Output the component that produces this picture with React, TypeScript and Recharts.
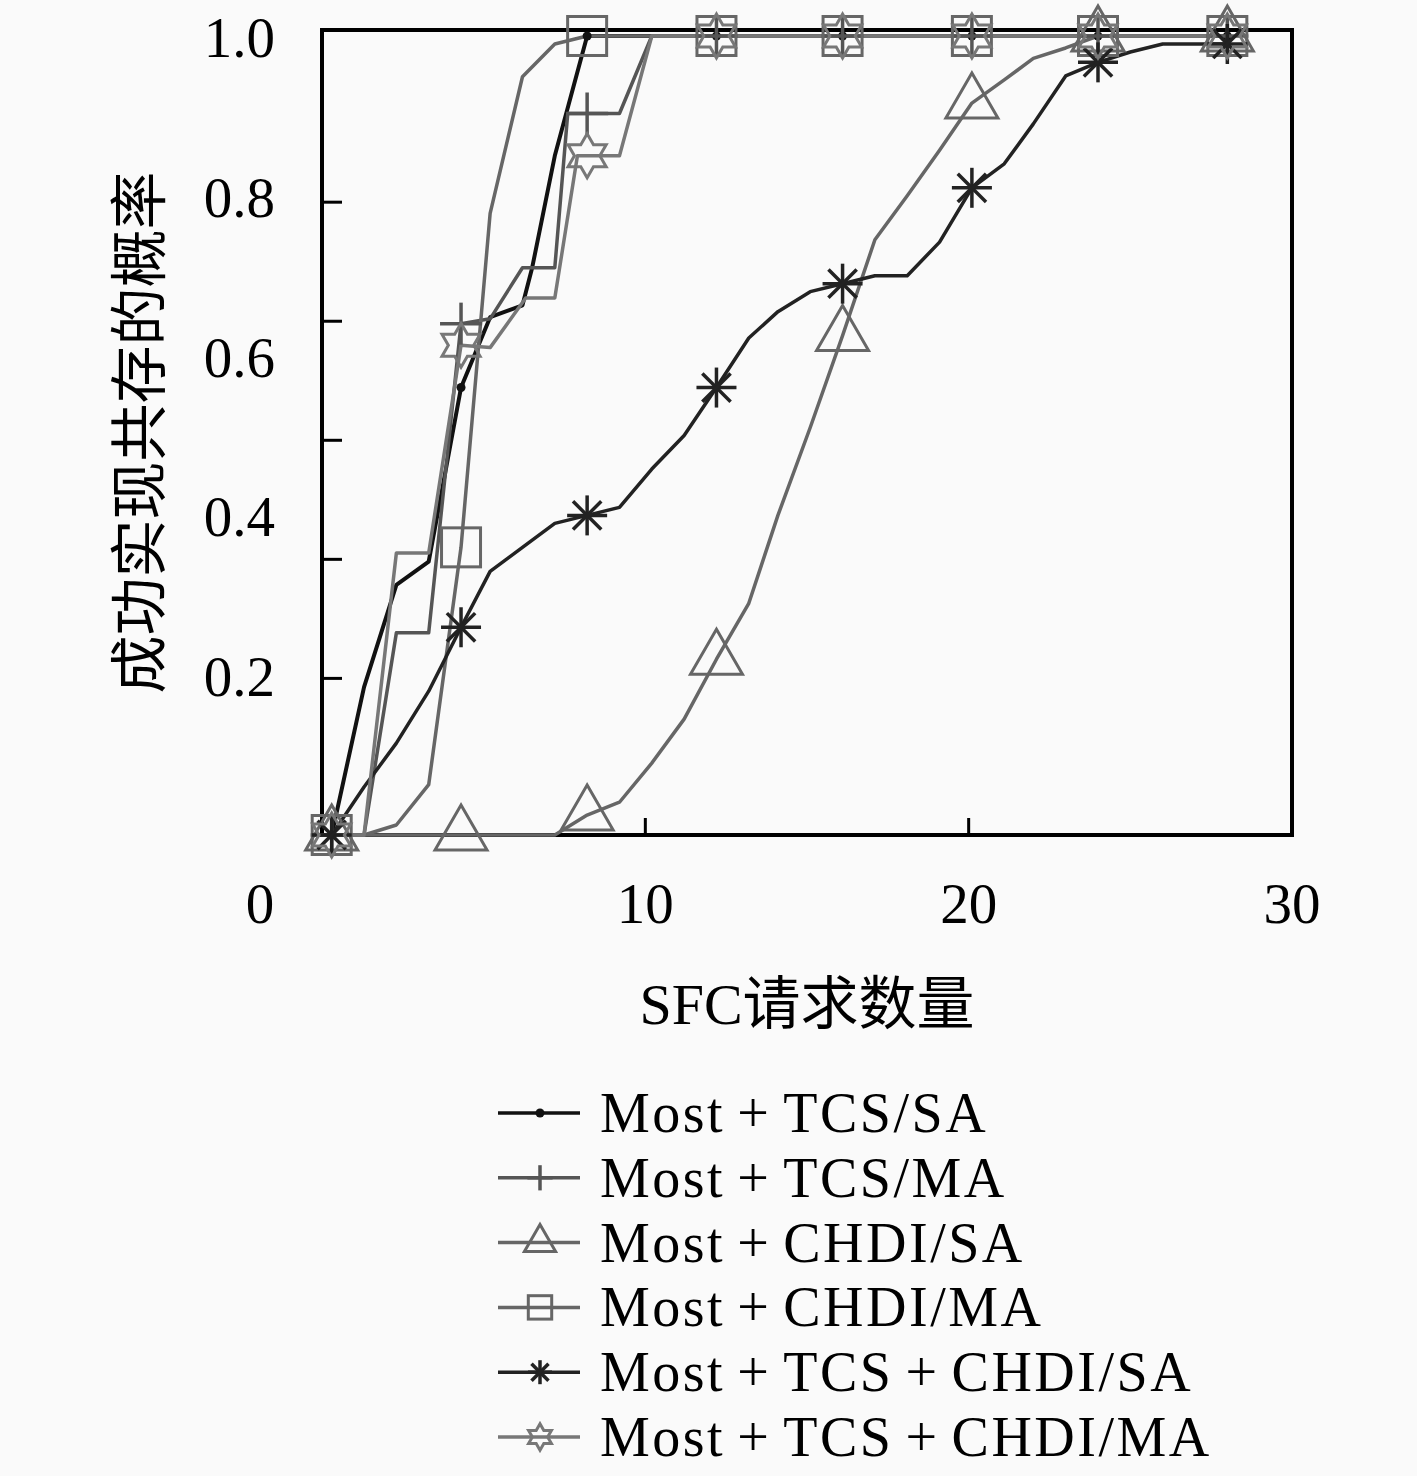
import React from 'react';
import { LineChart, Line, XAxis, YAxis, ReferenceArea } from 'recharts';

type Pt = [number, number];

// axis ticks
const X_TICKS = [0, 10, 20, 30];
const Y_LABELS = [0.2, 0.4, 0.6, 0.8, 1.0];
const Y_MARKS = [0.196, 0.345, 0.494, 0.643, 0.792];
const Y_MAX = 1.0075;

// x positions that carry a marker
const MARK_X = [0.3, 4.3, 8.2, 12.2, 16.1, 20.1, 24, 28];

// series values [SFC requests, probability]
const TCS_SA: Pt[] = [
  [0.3, 0], [1.3, 0.185], [2.3, 0.313], [3.3, 0.342], [4.3, 0.56], [5.2, 0.648],
  [6.2, 0.663], [6.5, 0.71], [7.2, 0.85], [8.2, 1], [12.2, 1], [16.1, 1], [20.1, 1], [24, 1], [28, 1],
];
const TCS_MA: Pt[] = [
  [0.3, 0], [1.3, 0], [2.3, 0.253], [3.3, 0.253], [4.3, 0.64], [5.2, 0.646], [6.2, 0.71],
  [7.2, 0.71], [7.6, 0.903], [8.2, 0.903], [9.2, 0.903], [10.2, 1], [12.2, 1], [16.1, 1],
  [20.1, 1], [24, 1], [28, 1],
];
const CHDI_SA: Pt[] = [
  [0.3, 0], [1.3, 0], [2.3, 0], [3.3, 0], [4.3, 0], [5.2, 0], [6.2, 0], [7.2, 0], [8.2, 0.025],
  [9.2, 0.041], [10.2, 0.09], [11.2, 0.145], [12.2, 0.22], [13.2, 0.29], [14.1, 0.4], [15.1, 0.51],
  [16.1, 0.625], [17.1, 0.745], [18.1, 0.8], [19.1, 0.857], [20.1, 0.916], [21.1, 0.945],
  [22, 0.972], [23, 0.985], [24, 1], [28, 1],
];
const CHDI_MA: Pt[] = [
  [0.3, 0], [1.3, 0], [2.3, 0.0125], [3.3, 0.063], [4.3, 0.36], [5.2, 0.778], [6.2, 0.949],
  [7.2, 0.99], [8.2, 1], [12.2, 1], [16.1, 1], [20.1, 1], [24, 1], [28, 1],
];
const TCS_CHDI_SA: Pt[] = [
  [0.3, 0], [1.3, 0.06], [2.3, 0.115], [3.3, 0.18], [4.3, 0.26], [5.2, 0.33], [6.2, 0.36],
  [7.2, 0.39], [8.2, 0.4], [9.2, 0.41], [10.2, 0.458], [11.2, 0.5], [12.2, 0.56], [13.2, 0.622],
  [14.1, 0.655], [15.1, 0.68], [16.1, 0.69], [17.1, 0.7], [18.1, 0.7], [19.1, 0.742], [20.1, 0.81],
  [21.1, 0.84], [22, 0.89], [23, 0.95], [24, 0.967], [25, 0.98], [26, 0.99], [27, 0.99], [28, 0.99],
];
const TCS_CHDI_MA: Pt[] = [
  [0.3, 0], [1.3, 0], [2.3, 0.353], [3.3, 0.353], [4.3, 0.613], [5.2, 0.61], [6.3, 0.672],
  [7.2, 0.672], [7.9, 0.85], [8.2, 0.85], [9.2, 0.85], [10.2, 1], [12.2, 1], [16.1, 1],
  [20.1, 1], [24, 1], [28, 1],
];

const SERIES = [
  { name: 'Most+TCS/SA', data: TCS_SA, color: '#111111', shape: 'dot', width: 4 },
  { name: 'Most+TCS/MA', data: TCS_MA, color: '#555555', shape: 'plus', width: 3.5 },
  { name: 'Most+CHDI/SA', data: CHDI_SA, color: '#666666', shape: 'triangle', width: 3.5 },
  { name: 'Most+CHDI/MA', data: CHDI_MA, color: '#666666', shape: 'square', width: 3.5 },
  { name: 'Most+TCS+CHDI/SA', data: TCS_CHDI_SA, color: '#222222', shape: 'asterisk', width: 3.5 },
  { name: 'Most+TCS+CHDI/MA', data: TCS_CHDI_MA, color: '#777777', shape: 'star', width: 3.5 },
];

const SERIF = "'Liberation Serif', 'Times New Roman', serif";
const CJK = "'Liberation Serif', 'Noto Sans CJK SC', sans-serif";

const toRows = (pts: Pt[]) => pts.map(([x, y]) => ({ x, y }));

const Marker = ({ shape, cx, cy, color, scale = 1 }: any) => {
  const sw = 3;
  if (shape === 'dot') {
    return <circle cx={cx} cy={cy} r={4.5} fill={color} />;
  }
  if (shape === 'plus') {
    const r = 21 * scale;
    return (
      <g stroke={color} strokeWidth={3.5}>
        <line x1={cx - r} y1={cy} x2={cx + r} y2={cy} />
        <line x1={cx} y1={cy - r} x2={cx} y2={cy + r} />
      </g>
    );
  }
  if (shape === 'triangle') {
    const w = 26 * scale;
    const h = 45 * scale;
    const pts = `${cx},${cy - (2 * h) / 3} ${cx - w},${cy + h / 3} ${cx + w},${cy + h / 3}`;
    return <polygon points={pts} fill="none" stroke={color} strokeWidth={sw} />;
  }
  if (shape === 'square') {
    const s = 19.5 * scale;
    return <rect x={cx - s} y={cy - s} width={2 * s} height={2 * s} fill="none" stroke={color} strokeWidth={sw} />;
  }
  if (shape === 'asterisk') {
    const r = 20 * scale;
    const arms = [0, 45, 90, 135].map((a) => {
      const rad = (a * Math.PI) / 180;
      const dx = Math.cos(rad) * r;
      const dy = Math.sin(rad) * r;
      return <line key={a} x1={cx - dx} y1={cy - dy} x2={cx + dx} y2={cy + dy} />;
    });
    return <g stroke={color} strokeWidth={3.5}>{arms}</g>;
  }
  // six-pointed star outline
  const R = 22 * scale;
  const r = R / Math.sqrt(3);
  const pts = Array.from({ length: 12 }, (_, k) => {
    const a = ((-90 + 30 * k) * Math.PI) / 180;
    const rr = k % 2 === 0 ? R : r;
    return `${cx + Math.cos(a) * rr},${cy + Math.sin(a) * rr}`;
  }).join(' ');
  return <polygon points={pts} fill="none" stroke={color} strokeWidth={sw} />;
};

const XTick = ({ x, y, payload }: any) => {
  const v = payload.value;
  const shift = v === 0 ? -62 : 0;
  return (
    <g>
      {v !== 0 && v !== 30 && <line x1={x} y1={y} x2={x} y2={y - 17} stroke="#000" strokeWidth={3} />}
      <text x={x + shift} y={y + 88} textAnchor="middle" fontFamily={SERIF} fontSize={57} fill="#000">
        {v}
      </text>
    </g>
  );
};

const YTick = ({ x, y, payload }: any) => {
  const v = payload.value;
  if (Y_MARKS.includes(v)) {
    return <line x1={x} y1={y} x2={x + 20} y2={y} stroke="#000" strokeWidth={3} />;
  }
  return (
    <text x={x - 47} y={y + 21} textAnchor="end" fontFamily={SERIF} fontSize={57} fill="#000">
      {v.toFixed(1)}
    </text>
  );
};

// legend label with math-style spacing around "+"
const LegendLabel = ({ name, x, y }: any) => {
  const parts = name.split('+');
  return (
    <text x={x} y={y} fontFamily={SERIF} fontSize={56} letterSpacing={2.5} fill="#000">
      {parts.map((p: string, i: number) => (
        <React.Fragment key={i}>
          {i > 0 && <tspan dx={12}>+</tspan>}
          <tspan dx={i > 0 ? 12 : 0}>{p}</tspan>
        </React.Fragment>
      ))}
    </text>
  );
};

const App: React.FC = () => {
  return (
    <div style={{ position: 'absolute', left: 0, top: 0, width: 1417, height: 1476, background: '#fafafa' }}>
      <LineChart width={1417} height={1080} margin={{ top: 30, right: 125, bottom: 145, left: 222 }}>
        <XAxis
          type="number"
          dataKey="x"
          domain={[0, 30]}
          ticks={X_TICKS}
          interval={0}
          axisLine={false}
          tickLine={false}
          tickSize={0}
          tickMargin={0}
          height={100}
          tick={<XTick />}
          label={{
            content: (p: any) => {
              const vb = p.viewBox || { x: 322, y: 835, width: 970 };
              return (
                <text x={vb.x + vb.width / 2} y={vb.y + 189} textAnchor="middle" fontFamily={CJK} fontSize={58} fill="#000">
                  SFC请求数量
                </text>
              );
            },
          }}
        />
        <YAxis
          type="number"
          domain={[0, Y_MAX]}
          ticks={[...Y_MARKS, ...Y_LABELS]}
          interval={0}
          axisLine={false}
          tickLine={false}
          tickSize={0}
          tickMargin={0}
          width={100}
          tick={<YTick />}
          label={{
            content: (p: any) => {
              const vb = p.viewBox || { x: 222, y: 30, height: 805 };
              const cx = vb.x - 87;
              const cy = vb.y + vb.height / 2;
              return (
                <text
                  x={cx}
                  y={cy}
                  textAnchor="middle"
                  dominantBaseline="central"
                  transform={`rotate(-90, ${cx}, ${cy})`}
                  fontFamily="'Noto Sans CJK SC', sans-serif"
                  fontSize={58}
                  fill="#000"
                >
                  成功实现共存的概率
                </text>
              );
            },
          }}
        />
        <ReferenceArea x1={0} x2={30} y1={0} y2={Y_MAX} fill="#fff" fillOpacity={0} stroke="#000" strokeWidth={4} />
        {SERIES.map((s) => (
          <Line
            key={s.name}
            data={toRows(s.data)}
            dataKey="y"
            name={s.name}
            type="linear"
            stroke={s.color}
            strokeWidth={s.width}
            strokeLinejoin="round"
            isAnimationActive={false}
            activeDot={false}
            dot={(p: any) =>
              MARK_X.includes(p.payload.x) ? (
                <Marker key={`${s.name}-${p.index}`} shape={s.shape} cx={p.cx} cy={p.cy} color={s.color} />
              ) : (
                <g key={`${s.name}-${p.index}`} />
              )
            }
          />
        ))}
      </LineChart>
      <svg width={1417} height={420} style={{ position: 'absolute', left: 0, top: 1060 }}>
        {SERIES.map((s, i) => {
          const y = 53 + i * 64.8;
          return (
            <g key={s.name}>
              <line x1={498} y1={y} x2={580} y2={y} stroke={s.color} strokeWidth={3.5} />
              <Marker shape={s.shape} cx={540} cy={y} color={s.color} scale={0.6} />
              <LegendLabel name={s.name} x={600} y={y + 19} />
            </g>
          );
        })}
      </svg>
    </div>
  );
};

export default App;
